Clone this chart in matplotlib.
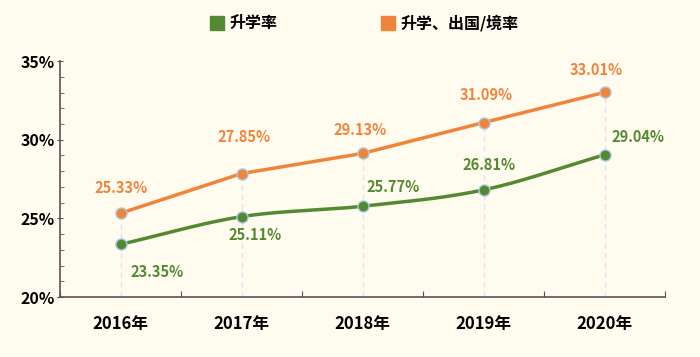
import numpy as np
import matplotlib.pyplot as plt
from matplotlib.lines import Line2D

plt.rcParams['font.family'] = ['Noto Sans CJK SC', 'DejaVu Sans']

years = ['2016年', '2017年', '2018年', '2019年', '2020年']
rate_study = [23.35, 25.11, 25.77, 26.81, 29.04]
rate_abroad = [25.33, 27.85, 29.13, 31.09, 33.01]
names = ['升学率', '升学、出国/境率']

green = '#538a31'
orange = '#f0843a'
bg = '#fffbef'
edge = '#a9cbe6'

# label offsets in points (dx, dy) for each data label
off_study = [(26, -20), (10, -13), (22, 14), (4, 18), (24, 13)]
off_abroad = [(0, 18), (2, 26), (-2, 17), (2, 20), (-6, 16)]


def smooth(x, y, n=40):
    # cubic hermite through points just for drawing a soft curve
    x = np.asarray(x, float); y = np.asarray(y, float)
    m = np.gradient(y, x)
    xs, ys = [], []
    for i in range(len(x) - 1):
        t = np.linspace(0, 1, n)
        h = x[i + 1] - x[i]
        h00 = 2*t**3 - 3*t**2 + 1; h10 = t**3 - 2*t**2 + t
        h01 = -2*t**3 + 3*t**2; h11 = t**3 - t**2
        xs.append(x[i] + t*h)
        ys.append(h00*y[i] + h10*h*m[i] + h01*y[i+1] + h11*h*m[i+1])
    return np.concatenate(xs), np.concatenate(ys)


fig = plt.figure(figsize=(7, 3.57), dpi=100, facecolor=bg)
ax = fig.add_axes([0.086, 0.168, 0.864, 0.661], facecolor=bg)

x = np.arange(len(years))
ax.vlines(x, 20, rate_abroad, colors='#dfe5ee', linestyles=(0, (4, 3)), lw=1, zorder=1)

sx, sy = smooth(x, rate_study)
ax.plot(sx, sy, color=green, lw=2.5, zorder=2)
ax.plot(x, rate_study, 'o', ms=8, color=green, mec=edge, mew=1, zorder=3)
ax.plot(x, rate_abroad, color=orange, lw=2.5, zorder=2)
ax.plot(x, rate_abroad, 'o', ms=8, color=orange, mec=edge, mew=1, zorder=3)

for i in range(len(years)):
    ax.annotate(f'{rate_study[i]:.2f}%', (x[i], rate_study[i]), xytext=off_study[i],
                textcoords='offset points', ha='center', va='center',
                color=green, fontsize=10.5, fontweight='bold')
    ax.annotate(f'{rate_abroad[i]:.2f}%', (x[i], rate_abroad[i]), xytext=off_abroad[i],
                textcoords='offset points', ha='center', va='center',
                color=orange, fontsize=10.5, fontweight='bold')

ax.set_xlim(-0.5, 4.5)
ax.set_ylim(20, 35)
ax.set_yticks([20, 25, 30, 35])
ax.set_yticklabels(['20%', '25%', '30%', '35%'])
ax.set_yticks(np.arange(20, 35, 1), minor=True)
ax.set_xticks(np.arange(-0.5, 5, 1))
ax.set_xticklabels([])
ax.set_xticks(x, minor=True)
ax.set_xticklabels(years, minor=True)
ax.tick_params(axis='x', which='major', length=4, direction='in', color='#555555')
ax.tick_params(axis='x', which='minor', length=0, pad=13, labelsize=12)
ax.tick_params(axis='y', which='major', length=4, direction='inout', color='#555555', labelsize=11.5, pad=2)
ax.tick_params(axis='y', which='minor', length=3, direction='in', color='#555555')
for lbl in ax.get_xticklabels(minor=True) + ax.get_yticklabels():
    lbl.set_fontweight('bold')
for s in ['top', 'right']:
    ax.spines[s].set_visible(False)
for s in ['left', 'bottom']:
    ax.spines[s].set_color('#555555')
    ax.spines[s].set_linewidth(1.2)

handles = [Line2D([], [], ls='none', marker='s', ms=10, color=green),
           Line2D([], [], ls='none', marker='s', ms=10, color=orange)]
fig.legend(handles, names, loc='upper center', bbox_to_anchor=(0.52, 1.0), ncol=2,
           frameon=False, handlelength=0.9, handletextpad=0.3, columnspacing=6.5,
           prop={'weight': 'bold', 'size': 11.5})

fig.savefig('out.png', dpi=100, facecolor=bg)
